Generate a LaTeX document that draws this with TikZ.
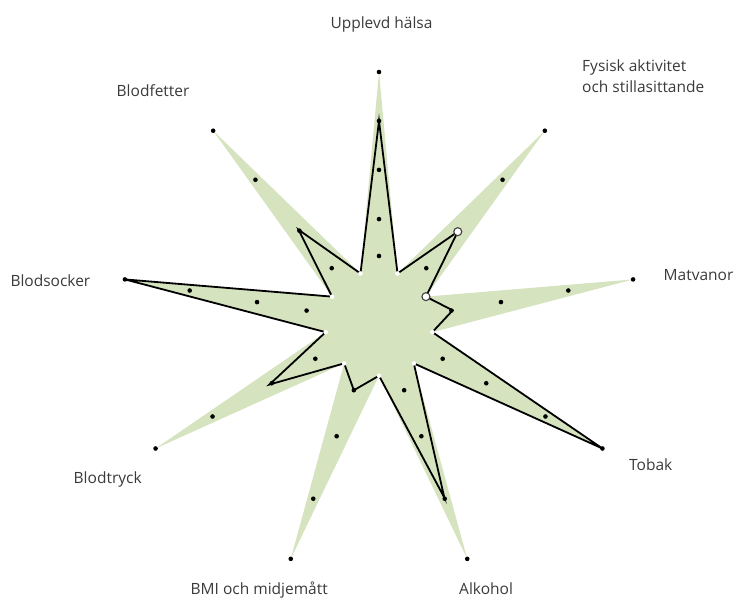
\documentclass[tikz,border=0pt]{standalone}
\usepackage{fontspec}
\setmainfont{Open Sans}
\definecolor{sage}{HTML}{D6E3BF}
\definecolor{labelgray}{HTML}{3A3A3A}
\definecolor{ringgray}{HTML}{404040}
\begin{document}
\begin{tikzpicture}[x=1pt,y=-1pt,
  lbl/.style={anchor=base west,inner sep=0pt,text=labelgray,font=\fontsize{15.5}{20.7}\selectfont,align=left},
  dataline/.style={draw=black,line width=1.8pt,line join=miter},
  leveldot/.style={fill=black},
  hiddenmark/.style={fill=white},
  openmark/.style={draw=ringgray,fill=white,line width=1.1pt}]
\useasboundingbox (0,0) rectangle (737,599);
% axis tips and valleys
\foreach \i in {0,...,8} {
  \coordinate (t\i) at ({379+258*sin(40*\i)},{323-251*cos(40*\i)});
  \coordinate (g\i) at ({379+258*0.21*sin(40*\i+20)},{323-251*0.21*cos(40*\i+20)});
}
% data values
\foreach \v [count=\i from 0] in {0.805,0.475,0.29,1,0.74,0.285,0.49,1,0.485} {
  \coordinate (p\i) at ({379+258*\v*sin(40*\i)},{323-251*\v*cos(40*\i)});
}
% green star
\fill[sage] (t0) -- (g0) -- (t1) -- (g1) -- (t2) -- (g2) -- (t3) -- (g3) -- (t4) -- (g4)
  -- (t5) -- (g5) -- (t6) -- (g6) -- (t7) -- (g7) -- (t8) -- (g8) -- cycle;
% data line
\draw[dataline] (p0) -- (g0) -- (p1) -- (g1) -- (p2) -- (g2) -- (p3) -- (g3) -- (p4) -- (g4)
  -- (p5) -- (g5) -- (p6) -- (g6) -- (p7) -- (g7) -- (p8) -- (g8) -- cycle;
% level dots
\foreach \r in {0.267,0.414,0.61,0.805,1} {
  \fill[leveldot] ({379},{323-251*\r}) circle (2.3);
}
\foreach \i in {1,...,8} {
  \foreach \r in {0.285,0.48,0.745,1} {
    \fill[leveldot] ({379+258*\r*sin(40*\i)},{323-251*\r*cos(40*\i)}) circle (2.3);
  }
}
% markers at valleys
\foreach \i in {0,2,3,4,5,6,7,8} {
  \fill[hiddenmark] (g\i) circle (2.3);
}
\draw[openmark] (p1) circle (4);
\draw[openmark] (g1) circle (4);
% labels
\node[lbl] (l0) at (330.3,29) {Upplevd hälsa};
\node[lbl] (l1) at (582,92.7) {Fysisk aktivitet\\och stillasittande};
\node[lbl] (l2) at (663.5,280.5) {Matvanor};
\node[lbl] (l3) at (629,470.5) {Tobak};
\node[lbl] (l4) at (459,594.5) {Alkohol};
\node[lbl] (l5) at (190.5,594.5) {BMI och midjemått};
\node[lbl] (l6) at (73.5,483.5) {Blodtryck};
\node[lbl] (l7) at (10.3,286.3) {Blodsocker};
\node[lbl] (l8) at (116.5,96.5) {Blodfetter};
\end{tikzpicture}
\end{document}
